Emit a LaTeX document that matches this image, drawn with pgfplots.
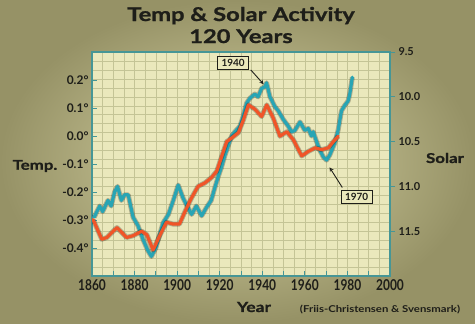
\documentclass[border=0pt]{standalone}
\usepackage{pgfplots}
\usepackage{pgfplotstable}
\pgfplotsset{compat=1.18}
\usepackage{fontspec}
\setmainfont{Lato}
\newfontfamily\cond{Lato}[FakeStretch=0.8]
\newfontfamily\wide{Lato}[FakeStretch=1.25, FakeBold=1.2]
\newfontfamily\widelight{Lato}[FakeStretch=1.2]
\definecolor{tealc}{RGB}{40,165,180}
\definecolor{orangec}{RGB}{240,85,40}
\definecolor{axisc}{RGB}{70,150,150}
\definecolor{plotbg}{RGB}{234,232,188}
\definecolor{gridc}{RGB}{196,196,150}
\definecolor{bgin}{RGB}{216,213,166}
\definecolor{bgout}{RGB}{150,146,102}
\definecolor{txt}{RGB}{30,30,25}

\pgfplotstableread{
year temp
1861.0 -0.29
1863.6 -0.25
1865.0 -0.27
1867.5 -0.23
1869.0 -0.25
1870.6 -0.20
1872.0 -0.18
1873.8 -0.23
1875.3 -0.21
1877.0 -0.21
1879.3 -0.29
1881.6 -0.32
1884.0 -0.37
1886.3 -0.41
1887.9 -0.43
1890.0 -0.40
1893.4 -0.31
1895.9 -0.28
1898.2 -0.23
1900.5 -0.175
1902.7 -0.22
1904.0 -0.24
1906.8 -0.28
1909.0 -0.25
1911.5 -0.285
1913.8 -0.255
1916.0 -0.23
1917.7 -0.185
1919.3 -0.145
1920.9 -0.11
1922.4 -0.07
1924.0 -0.035
1925.6 0.000
1927.1 0.015
1929.5 0.035
1931.0 0.070
1932.6 0.117
1934.2 0.135
1936.5 0.150
1938.0 0.140
1939.7 0.170
1941.2 0.176
1942.0 0.190
1943.6 0.140
1945.9 0.105
1947.5 0.090
1949.8 0.060
1952.2 0.035
1953.8 0.015
1955.3 0.020
1957.7 0.050
1960.0 0.020
1961.6 0.027
1963.1 0.000
1963.9 0.015
1965.5 -0.020
1967.0 -0.050
1968.6 -0.074
1970.2 -0.086
1971.7 -0.068
1974.0 -0.026
1975.6 0.020
1977.2 0.090
1978.8 0.110
1980.3 0.125
1981.1 0.150
1981.9 0.190
1982.3 0.210
}\temptable

\pgfplotstableread{
year solar
1860.5 11.37
1864.6 11.59
1867.0 11.57
1871.7 11.46
1876.3 11.57
1879.3 11.55
1883.3 11.50
1885.8 11.54
1888.7 11.71
1892.0 11.54
1895.0 11.40
1898.0 11.42
1901.1 11.42
1903.7 11.28
1906.5 11.14
1909.8 11.00
1913.1 10.96
1916.2 10.90
1918.6 10.83
1921.0 10.66
1923.3 10.50
1925.6 10.46
1928.8 10.40
1931.1 10.26
1933.5 10.09
1936.6 10.14
1939.7 10.22
1942.1 10.09
1945.2 10.24
1948.3 10.44
1951.5 10.39
1954.6 10.48
1958.5 10.66
1961.6 10.61
1964.8 10.57
1967.9 10.59
1971.0 10.57
1973.4 10.50
1975.7 10.44
}\solartable

\pgfplotsset{
  common/.style={at={(92bp,47bp)}, anchor=south west, scale only axis,
    width=298bp, height=224bp, xmin=1860, xmax=2000},
}

\begin{document}
\begin{tikzpicture}[x=1bp,y=1bp]
\shade[inner color=bgin, outer color=bgout] (0,0) rectangle (475,323);

% grid layer
\begin{axis}[common, ymin=9.5, ymax=12, y dir=reverse,
  xtick={1860,1865,...,2000}, ytick={9.5,9.6,...,12.01},
  grid=major, major grid style={gridc, line width=0.5pt},
  xticklabels={}, yticklabels={}, major tick length=0pt,
  axis line style={draw=none},
  axis background/.style={fill=plotbg}]
\end{axis}

% temperature axis
\begin{axis}[common, ymin=-0.5, ymax=0.3,
  axis line style={draw=axisc, line width=1.3pt},
  xtick pos=lower, ytick pos=left, tick align=inside,
  major tick length=5bp, tick style={axisc, line width=1pt},
  xtick={1860,1870,...,2000},
  xticklabels={1860,,1880,,1900,,1920,,1940,,1960,,1980,,2000},
  ytick={-0.4,-0.3,-0.2,-0.1,0,0.1,0.2},
  yticklabels={-0.4°,-0.3°,-0.2°,-0.1°,0.0°,0.1°,0.2°},
  xticklabel style={font=\cond\bfseries\fontsize{15}{15}\selectfont, text=txt},
  yticklabel style={font=\bfseries\fontsize{12}{12}\selectfont, text=txt},
  clip=false]
\addplot[black, opacity=0.25, line width=5pt, line join=round] table[x=year,y=temp] {\temptable};
\addplot[tealc, line width=3.2pt, line join=round, line cap=round] table[x=year,y=temp] {\temptable};
\node[draw=txt, line width=1pt, fill=plotbg, inner xsep=4pt, inner ysep=3pt, font=\bfseries\fontsize{10}{10}\selectfont, text=txt] at (axis cs:1926.3,0.261) {1940};
\draw[-stealth, line width=0.9pt, txt] (axis cs:1934.6,0.236) -- (axis cs:1940.6,0.185);
\node[draw=txt, line width=1pt, fill=plotbg, inner xsep=4pt, inner ysep=3pt, font=\bfseries\fontsize{10}{10}\selectfont, text=txt] at (axis cs:1984.3,-0.218) {1970};
\draw[-stealth, line width=0.9pt, txt] (axis cs:1977.6,-0.184) -- (axis cs:1971.6,-0.112);
\end{axis}

% solar axis
\begin{axis}[common, ymin=9.5, ymax=12, y dir=reverse,
  axis y line*=right, axis x line=none,
  axis line style={draw=axisc, line width=1.3pt},
  tick align=outside, major tick length=5bp, tick style={axisc, line width=1pt},
  ytick={9.5,10,10.5,11,11.5},
  yticklabels={9.5,10.0,10.5,11.0,11.5},
  yticklabel style={font=\bfseries\fontsize{11}{11}\selectfont, text=txt}]
\addplot[black, opacity=0.25, line width=5pt, line join=round] table[x=year,y=solar] {\solartable};
\addplot[orangec, line width=3.2pt, line join=round, line cap=round] table[x=year,y=solar] {\solartable};
\end{axis}

\node[font=\wide\bfseries\fontsize{19}{19}\selectfont, text=txt, anchor=base] at (241,302) {Temp \& Solar Activity};
\node[font=\wide\bfseries\fontsize{19}{19}\selectfont, text=txt, anchor=base] at (241,280) {120 Years};
\node[font=\wide\bfseries\fontsize{13.5}{13.5}\selectfont, text=txt] at (35,157) {Temp.};
\node[font=\wide\bfseries\fontsize{13.5}{13.5}\selectfont, text=txt] at (445,165) {Solar};
\node[font=\wide\bfseries\fontsize{14}{14}\selectfont, text=txt] at (254,16) {Year};
\node[font=\widelight\bfseries\fontsize{9.5}{9.5}\selectfont, text=txt] at (380,13) {(Friis-Christensen \& Svensmark)};

\pgfresetboundingbox
\path[use as bounding box] (0,0) rectangle (475,323);
\end{tikzpicture}
\end{document}
